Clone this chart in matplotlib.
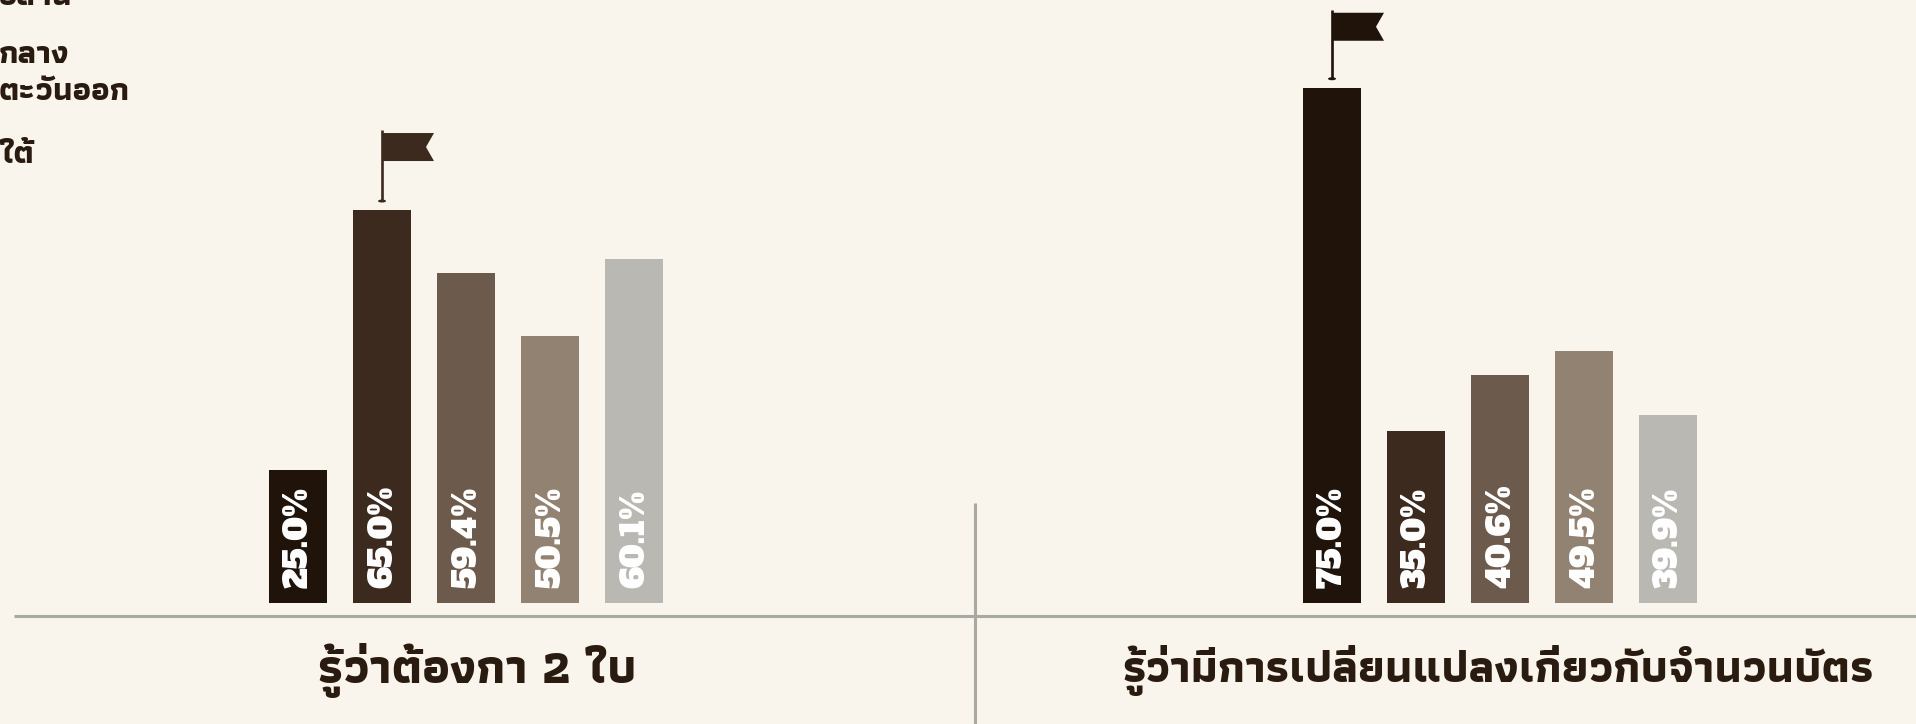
import matplotlib
matplotlib.use("Agg")
import matplotlib.pyplot as plt
from matplotlib.patches import Polygon, Ellipse

W, H = 1916, 724
DPI = 100
BG = "#f9f5ed"
INK = "#2a1b10"
RULE = "#a9a9a4"
THAI_FONT = "Athiti"
NUM_FONT = "Alfa Slab One"

COLORS = ["#1f130a", "#3d2a1f", "#6c5a4c", "#918272", "#b9b8b2"]

# bar heights, labels printed on the bars do not follow them
left_values = [19.4, 57.2, 48.0, 38.9, 50.1]
left_labels = ["25.0%", "65.0%", "59.4%", "50.5%", "60.1%"]
left_title = "รู้ว่าต้องกา 2 ใบ"
right_values = [75.0, 25.0, 33.2, 36.7, 27.4]
right_labels = ["75.0%", "35.0%", "40.6%", "49.5%", "39.9%"]
right_title = "รู้ว่ามีการเปลี่ยนแปลงเกี่ยวกับจำนวนบัตร"
legend_bits = ["อีสาน", "กลาง", "ตะวันออก", "ใต้"]

PX_PER_UNIT = 6.87
BASE_Y = 603
BAR_W = 58
STEP = 84


def ypx(y):
    return (BASE_Y - y) / PX_PER_UNIT


def draw_flag(ax, cx, top, color, lift):
    # pole, foot and pennant, all measured up from the bar top
    u = 1 / PX_PER_UNIT
    ax.plot([cx, cx], [top + 9 * u, top + (lift + 3) * u], color=color, lw=1.9, solid_capstyle="butt")
    ax.add_patch(Ellipse((cx, top + 9 * u), 8, 3 * u, color=color, lw=0))
    shape = [(cx, top + lift * u), (cx + 52, top + lift * u), (cx + 44, top + (lift - 14) * u),
             (cx + 52, top + (lift - 28) * u), (cx, top + (lift - 28) * u)]
    ax.add_patch(Polygon(shape, closed=True, color=color, lw=0))


def draw_group(ax, start, values, labels, title, title_x, title_size, lift):
    xs = [start + i * STEP for i in range(len(values))]
    ax.bar(xs, values, width=BAR_W, color=COLORS, linewidth=0)
    for x, lab in zip(xs, labels):
        ax.text(x + 1, 15 / PX_PER_UNIT, lab, rotation=90, ha="center", va="bottom",
                color="white", fontsize=23, family=NUM_FONT)
    best = values.index(max(values))
    draw_flag(ax, xs[best], values[best], COLORS[best], lift)
    ax.text(title_x, ypx(670), title, ha="center", va="center", color=INK,
            fontsize=title_size, family=THAI_FONT, fontweight="bold")


fig = plt.figure(figsize=(W / DPI, H / DPI), dpi=DPI, facecolor=BG)
ax = fig.add_axes([0, 0, 1, 1])
ax.set_xlim(0, W)
ax.set_ylim(-(H - BASE_Y) / PX_PER_UNIT, BASE_Y / PX_PER_UNIT)
ax.axis("off")

ax.plot([14, W], [ypx(616)] * 2, color=RULE, lw=2.2, solid_capstyle="butt")
ax.plot([975, 975], [ypx(503), ypx(H)], color=RULE, lw=2.2, solid_capstyle="butt")

draw_group(ax, 298, left_values, left_labels, left_title, 477, 35, 77)
draw_group(ax, 1332, right_values, right_labels, right_title, 1498, 32.6, 75)

for bit, y in zip(legend_bits, [-3, 55, 92, 155]):
    ax.text(-1, ypx(y), bit, ha="left", va="center", color=INK, fontsize=23.5,
            family=THAI_FONT, fontweight="bold")

fig.savefig("out.png", dpi=DPI, facecolor=BG)
